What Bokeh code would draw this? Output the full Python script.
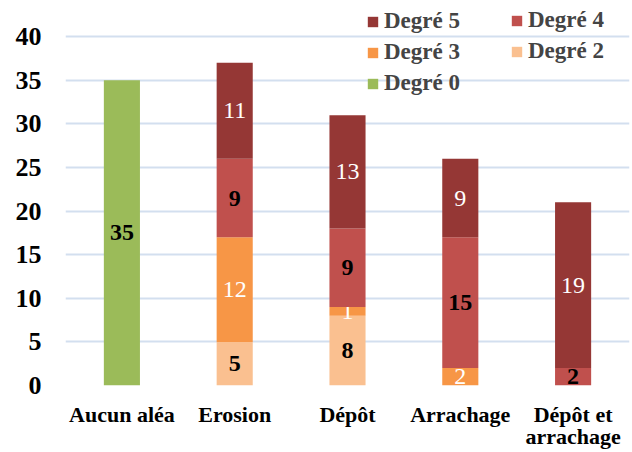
from bokeh.plotting import figure
from bokeh.models import (ColumnDataSource, FixedTicker, Legend, LegendItem, Range1d,
                          CategoricalAxis, FactorRange)
from bokeh.core.properties import value
from bokeh.embed import file_html
from bokeh.resources import INLINE

categories = ["Aucun aléa", "Erosion", "Dépôt", "Arrachage", "Dépôt et arrachage"]
cat_line1 = ["Aucun aléa", "Erosion", "Dépôt", "Arrachage", "Dépôt et"]
cat_line2 = [" ", "  ", "   ", "    ", "arrachage"]
degre0 = [35, 0, 0, 0, 0]
degre2 = [0, 5, 8, 0, 0]
degre3 = [0, 12, 1, 2, 0]
degre4 = [0, 9, 9, 15, 2]
degre5 = [0, 11, 13, 9, 19]
y_ticks = [0, 5, 10, 15, 20, 25, 30, 35, 40]

series = [
    ("Degré 0", degre0, "#9BBB59", "black", "bold"),
    ("Degré 2", degre2, "#FAC090", "black", "bold"),
    ("Degré 3", degre3, "#F79646", "white", "normal"),
    ("Degré 4", degre4, "#C0504D", "black", "bold"),
    ("Degré 5", degre5, "#953735", "white", "normal"),
]

FONT = "Liberation Serif"

p = figure(x_range=categories, y_range=Range1d(0, 44.15), width=632, height=452,
           output_backend="svg", toolbar_location=None,
           min_border_left=65, min_border_right=3, min_border_top=0, min_border_bottom=67)
p.extra_x_ranges = {"l1": FactorRange(factors=cat_line1), "l2": FactorRange(factors=cat_line2)}
p.outline_line_color = None
p.xgrid.grid_line_color = None
p.xaxis.visible = False
p.ygrid.grid_line_color = "#D3DFEF"
p.ygrid.grid_line_width = 2
p.yaxis.ticker = FixedTicker(ticks=y_ticks)
p.yaxis.axis_line_color = None
p.yaxis.major_tick_line_color = None
p.yaxis.minor_tick_line_color = None
p.yaxis.major_label_text_font = FONT
p.yaxis.major_label_text_font_style = "bold"
p.yaxis.major_label_text_font_size = "26px"
p.yaxis.major_label_text_color = "black"
p.yaxis.major_label_standoff = 18

for rng, standoff in (("l1", 10), ("l2", -12)):
    ax = CategoricalAxis(x_range_name=rng, axis_line_color=None, major_tick_line_color=None,
                         minor_tick_line_color=None, major_label_text_font=FONT,
                         major_label_text_font_style="bold", major_label_text_font_size="22px",
                         major_label_text_color="black", major_label_standoff=standoff)
    p.add_layout(ax, "below")

bottom = [0] * len(categories)
renderers = {}
for name, vals, color, tcolor, tstyle in series:
    top = [b + v for b, v in zip(bottom, vals)]
    mid = [b + v / 2 for b, v in zip(bottom, vals)]
    src = ColumnDataSource(dict(x=categories, bottom=bottom, top=top, mid=mid,
                                lab=[str(v) if v > 0 else "" for v in vals]))
    r = p.vbar(x="x", bottom="bottom", top="top", width=0.32, source=src,
               fill_color=color, line_color=None)
    renderers[name] = r
    p.text(x="x", y="mid", text="lab", source=src, text_align="center",
           text_baseline="middle", text_color=tcolor, text_font=value(FONT),
           text_font_style=tstyle, text_font_size="24px")
    bottom = top


def make_legend(names, loc):
    lg = Legend(items=[LegendItem(label=n, renderers=[renderers[n]]) for n in names],
                location=loc, orientation="vertical")
    lg.label_text_font = FONT
    lg.label_text_font_style = "bold"
    lg.label_text_font_size = "23px"
    lg.glyph_width = 13
    lg.glyph_height = 13
    lg.background_fill_alpha = 0
    lg.border_line_color = None
    lg.spacing = 5
    lg.label_standoff = 5
    lg.padding = 0
    lg.margin = 0
    return lg


p.add_layout(make_legend(["Degré 5", "Degré 3", "Degré 0"], (301, 289)), "center")
p.add_layout(make_legend(["Degré 4", "Degré 2"], (445, 321)), "center")

open("out.html", "w").write(file_html(p, INLINE))
